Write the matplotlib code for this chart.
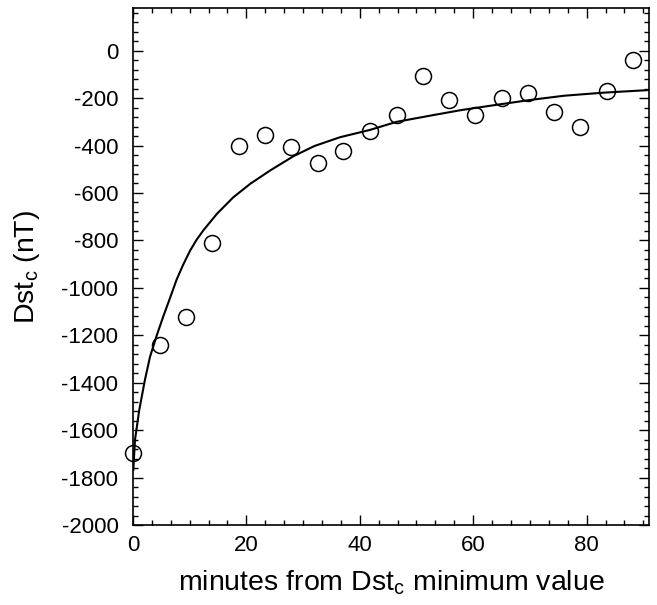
import matplotlib
matplotlib.use('Agg')
import matplotlib.pyplot as plt
from matplotlib.ticker import MultipleLocator

plt.rcParams['font.family'] = ['Liberation Sans', 'DejaVu Sans']
plt.rcParams['mathtext.fontset'] = 'custom'
plt.rcParams['mathtext.rm'] = 'Liberation Sans'
plt.rcParams['mathtext.it'] = 'Liberation Sans'
plt.rcParams['axes.unicode_minus'] = False

# observed Dst_c points
minutes = [0.0, 4.8, 9.4, 14.0, 18.7, 23.3, 27.9, 32.6, 37.1, 41.8,
           46.5, 51.1, 55.7, 60.3, 65.0, 69.7, 74.3, 78.9, 83.6, 88.1]
dst = [-1697, -1242, -1123, -810, -403, -354, -408, -472, -425, -337,
       -271, -105, -209, -272, -198, -178, -260, -323, -168, -39]

# fitted curve
fit_x = [0.06, 0.35, 1.1, 2.1, 3.0, 4.2, 5.35, 6.5, 7.7, 8.9, 10.1, 11.2,
         12.4, 14.8, 17.7, 20.7, 24.2, 28.3, 32.0, 36.5, 41.8, 46.5, 52.4,
         58.0, 64.2, 70.0, 76.0, 83.0, 91.0]
fit_y = [-1768, -1642, -1516, -1389, -1291, -1200, -1120, -1045, -965, -900,
         -842, -798, -758, -688, -618, -561, -505, -445, -402, -365, -334,
         -300, -274, -250, -228, -208, -190, -177, -166]

fig = plt.figure(figsize=(6.57, 6.05), dpi=100)
ax = fig.add_axes([0.2024, 0.1322, 0.7854, 0.8546])

ax.plot(fit_x, fit_y, color='black', lw=1.5)
ax.plot(minutes, dst, 'o', ms=11.5, mfc='none', mec='black', mew=1.1, clip_on=False)

ax.set_xlim(0, 91)
ax.set_ylim(-2000, 180)
ax.xaxis.set_major_locator(MultipleLocator(20))
ax.xaxis.set_minor_locator(MultipleLocator(20 / 6))
ax.yaxis.set_major_locator(MultipleLocator(200))
ax.yaxis.set_minor_locator(MultipleLocator(40))
ax.tick_params(which='both', direction='in', top=True, right=True, width=1.0, labelsize=16)
ax.tick_params(which='major', length=7)
ax.tick_params(which='minor', length=3.6)
ax.tick_params(axis='x', pad=7.5)
ax.tick_params(axis='y', pad=10.5)
for s in ax.spines.values():
    s.set_linewidth(1.2)

ax.set_xlabel(r'minutes from Dst$_\mathrm{c}$ minimum value', fontsize=20.5, labelpad=9)
ax.set_ylabel(r'Dst$_\mathrm{c}$ (nT)', fontsize=20.5, labelpad=14)

fig.savefig('out.png', dpi=100)
